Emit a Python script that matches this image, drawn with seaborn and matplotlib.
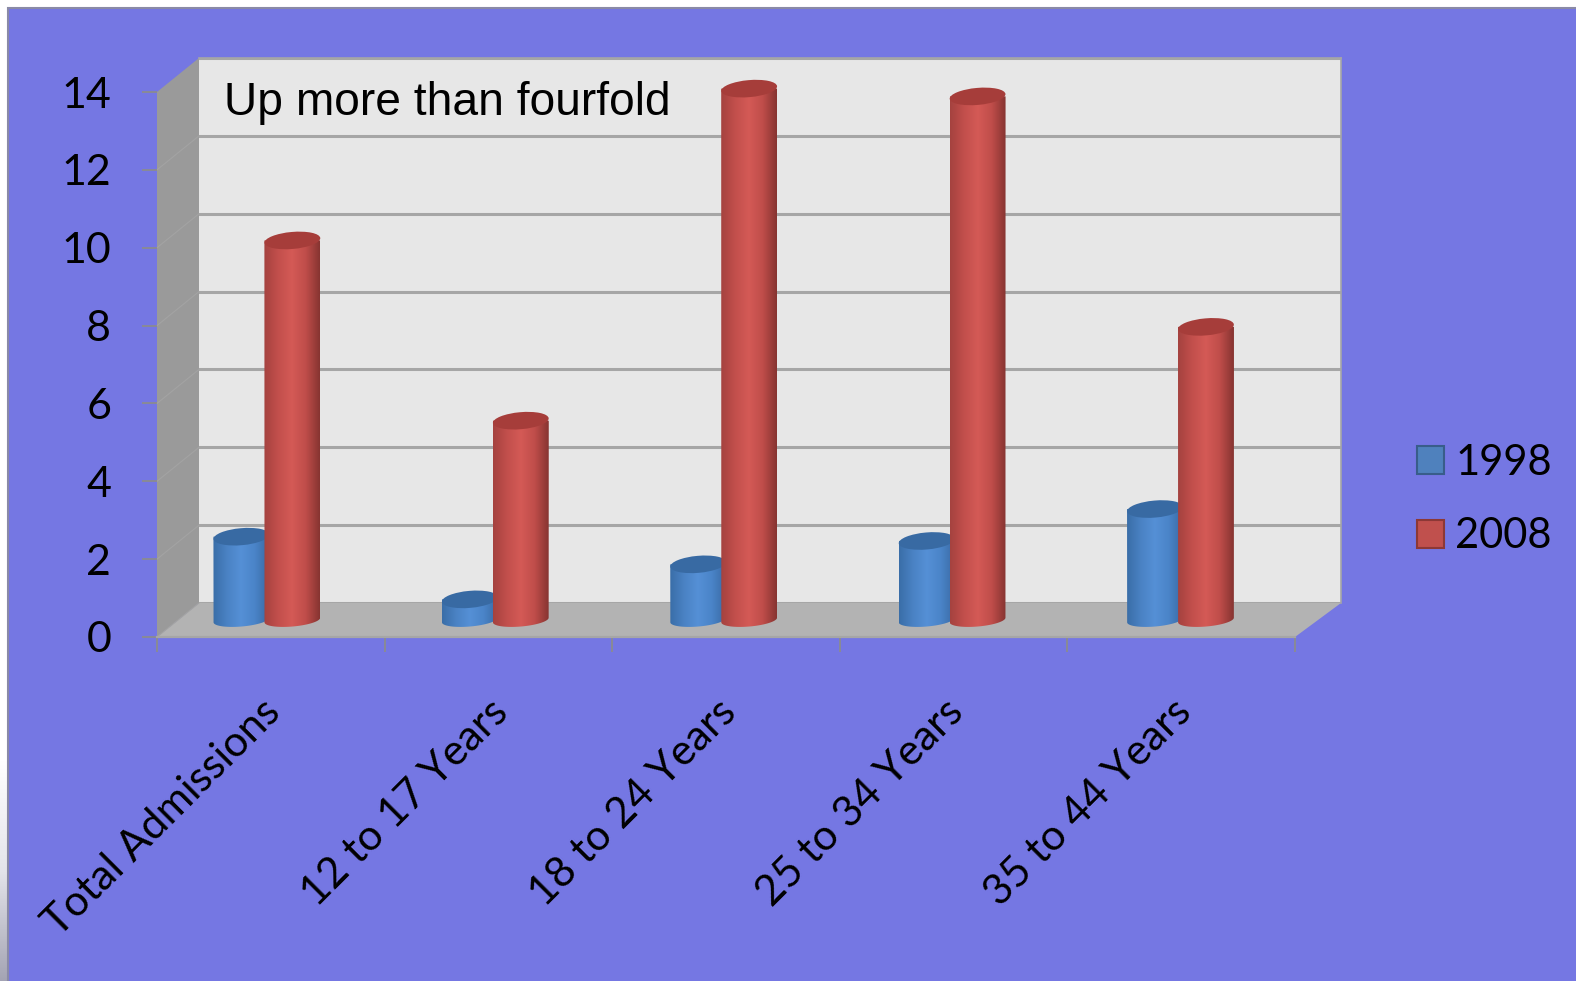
import numpy as np
import pandas as pd
import matplotlib
matplotlib.use("Agg")
import matplotlib.pyplot as plt
import seaborn as sns
from matplotlib.colors import LinearSegmentedColormap
from matplotlib.patches import Ellipse, Polygon, Rectangle
from matplotlib.path import Path
from matplotlib.transforms import IdentityTransform, ScaledTranslation

categories = ["Total Admissions", "12 to 17 Years", "18 to 24 Years", "25 to 34 Years", "35 to 44 Years"]
values_1998 = [2.14, 0.53, 1.43, 2.03, 2.85]
values_2008 = [9.75, 5.12, 13.65, 13.45, 7.53]
years = ["1998", "2008"]
y_ticks = [0, 2, 4, 6, 8, 10, 12, 14]
annotation = "Up more than fourfold"

W, H = 1576, 981
PANEL = "#7577e3"
WALL = "#e7e7e7"
SIDE = "#9a9a9a"
FLOOR = "#b3b3b3"
GRID = "#a6a6a6"
TICK = "#8f8f80"
FILL = {"1998": "#4f81bd", "2008": "#c0504d"}
EDGE = {"1998": "#385d8a", "2008": "#8c3836"}
CAP = {"1998": "#386aa3", "2008": "#a63d3a"}
SHADE = {
    "1998": ["#3a6ea8", "#4a82c4", "#5590d6", "#4a84c8", "#3a6aa4"],
    "2008": ["#a5423f", "#c24f4c", "#d45a56", "#bf4d4a", "#873431"],
}

sns.set_theme(style="white")
plt.rcParams["font.family"] = ["Lato", "DejaVu Sans"]
plt.rcParams["text.color"] = "black"

fig = plt.figure(figsize=(W / 100, H / 100), dpi=100, facecolor="white")


def axes_px(left, top, right, bottom, **kw):
    return fig.add_axes([left / W, 1 - bottom / H, (right - left) / W, (bottom - top) / H], **kw)


# Pixel-space backdrop: slide panel, side wall and floor of the chart box
FRONT_L, FRONT_R, FRONT_0, FRONT_14 = 157, 1295, 637, 92
BACK_L, BACK_R, BACK_0, BACK_14 = 199, 1341, 603, 58

scene = axes_px(0, 0, W, H, zorder=0)
scene.set_xlim(0, W)
scene.set_ylim(H, 0)
scene.axis("off")

# Soft grey fade along the left slide edge
strip = axes_px(0, 760, 8, H, zorder=-1)
strip.imshow(np.linspace(0, 1, 128)[:, None], aspect="auto",
             cmap=LinearSegmentedColormap.from_list("edge", ["#ffffff", "#e4e4ea", "#a4a4b4"]))
strip.axis("off")

scene.add_patch(Rectangle((8.5, 8), W, H, facecolor=PANEL, edgecolor="#8a8aa6", lw=1.5))
scene.add_patch(Polygon([(FRONT_L, FRONT_14), (BACK_L, BACK_14), (BACK_L, BACK_0), (FRONT_L, FRONT_0)],
                        facecolor=SIDE, edgecolor="none"))
scene.add_patch(Polygon([(FRONT_L, FRONT_0), (BACK_L, BACK_0), (BACK_R, BACK_0), (FRONT_R, FRONT_0)],
                        facecolor=FLOOR, edgecolor="none"))
for v in y_ticks[:-1]:
    front_y = FRONT_0 - v * (FRONT_0 - FRONT_14) / 14
    back_y = BACK_0 - v * (BACK_0 - BACK_14) / 14
    scene.plot([FRONT_L, BACK_L], [front_y, back_y], color="#a3a3a3", lw=0.8)

# Back wall with its gridlines
wall = axes_px(BACK_L, BACK_14, BACK_R, BACK_0, zorder=1, facecolor=WALL)
wall.set_xlim(0, 1)
wall.set_ylim(0, 14)
wall.set_xticks([])
wall.set_yticks(y_ticks)
wall.set_yticklabels([])
wall.grid(True, axis="y", color=GRID, lw=2.2)
wall.tick_params(length=0)
for name, spine in wall.spines.items():
    spine.set_visible(name in ("top", "right"))
    spine.set_color(GRID)
    spine.set_linewidth(1.2)
wall.set_axisbelow(True)
wall.text(0.0215, 0.8955, annotation, transform=wall.transAxes, family="Liberation Sans",
          fontsize=33.2, color="black", va="baseline", ha="left")

# Front frame carrying the value and category axes
front = axes_px(FRONT_L, FRONT_14, FRONT_R, FRONT_0, zorder=2, facecolor="none")
front.set_xlim(-0.5, 4.5)
front.set_ylim(0, 14)
front.set_yticks(y_ticks)
front.set_yticklabels([str(v) for v in y_ticks])
front.set_xticks(np.arange(-0.5, 5, 1))
front.set_xticklabels([])
front.set_xticks(np.arange(5), labels=categories, minor=True)
front.tick_params(axis="y", length=11, width=1.1, color=TICK, direction="out", pad=22,
                  labelsize=31, labelcolor="black", left=True)
front.tick_params(axis="x", which="major", length=11, width=1.1, color=TICK, direction="out", bottom=True)
front.tick_params(axis="x", which="minor", length=0, pad=40, labelsize=30.5, labelcolor="black")
label_shift = ScaledTranslation(-10 / 100, 0, fig.dpi_scale_trans)
for label in front.get_xticklabels(minor=True):
    label.set_rotation(45)
    label.set_rotation_mode("anchor")
    label.set_ha("right")
    label.set_va("top")
    label.set_transform(label.get_transform() + label_shift)
for name, spine in front.spines.items():
    spine.set_visible(name == "bottom")
    spine.set_color(GRID)
    spine.set_linewidth(1.6)

# Cylinders stand on a plane set back from the front frame
PLANE_0 = 620
UNIT = (BACK_0 - BACK_14) / 14
STEP = 228.4
bars = axes_px(264.4 - STEP / 2, PLANE_0 - 15 * UNIT, 264.4 + 4.5 * STEP, PLANE_0 + UNIT, zorder=3, facecolor="none")

frame = pd.DataFrame({
    "group": categories * 2,
    "year": [years[0]] * len(categories) + [years[1]] * len(categories),
    "rate": values_1998 + values_2008,
})
sns.barplot(data=frame, x="group", y="rate", hue="year", hue_order=years, order=categories,
            palette=FILL, width=0.49, gap=0, dodge=True, saturation=1, linewidth=0, ax=bars)
bars.set_xlim(-0.5, 4.5)
bars.set_ylim(-1, 15)

handles, labels = bars.get_legend_handles_labels()
legend = bars.legend(handles, labels, loc="upper left", frameon=False, fontsize=30,
                     bbox_to_anchor=(1417 / W, 1 - 444 / H), bbox_transform=fig.transFigure,
                     handlelength=0.65, handleheight=0.65, handletextpad=0.27,
                     labelspacing=0.85, borderpad=0, borderaxespad=0)
for patch, year in zip(legend.get_patches(), years):
    patch.set_edgecolor(EDGE[year])
    patch.set_linewidth(1.5)
for text in legend.get_texts():
    text.set_color("black")
bars.set_axis_off()
legend.set_visible(True)

CAP_B = 8.5
BASE_B = 6.5
TILT = np.deg2rad(5)
OVERLAP = 5 / STEP
ramp_x = np.linspace(0, 1, 160)[None, :]


def tilted_arc(cx, cy, a, b, t):
    return np.column_stack([
        cx + a * np.cos(t) * np.cos(TILT) - b * np.sin(t) * np.sin(TILT),
        cy + a * np.cos(t) * np.sin(TILT) + b * np.sin(t) * np.cos(TILT),
    ])


for order, (year, container) in enumerate(zip(years, bars.containers)):
    cmap = LinearSegmentedColormap.from_list(f"shade{year}", SHADE[year])
    for patch in container:
        if order == 0:
            patch.set_x(patch.get_x() + OVERLAP)
        patch.set_visible(False)
        x0, x1 = patch.get_x(), patch.get_x() + patch.get_width()
        top = patch.get_height()
        (dx0, dy0), (dx1, dy1) = bars.transData.transform([(x0, 0), (x1, top)])
        a = (dx1 - dx0) / 2
        cx = (dx0 + dx1) / 2
        arc = tilted_arc(cx, dy0, a, BASE_B, np.linspace(np.pi, 2 * np.pi, 48))
        outline = np.vstack([arc, [dx1, dy1], [dx0, dy1], arc[0]])
        body = bars.imshow(ramp_x, extent=(x0, x1, -1, 15), aspect="auto", cmap=cmap, zorder=3 + order)
        body.set_clip_path(Path(outline), IdentityTransform())
        bars.add_patch(Ellipse((cx, dy1), 2 * a, 2 * CAP_B, angle=np.rad2deg(TILT), facecolor=CAP[year],
                               edgecolor="none", transform=IdentityTransform(), zorder=3.5 + order))
bars.set_xlim(-0.5, 4.5)
bars.set_ylim(-1, 15)

fig.savefig("out.png", dpi=100, facecolor="white")
